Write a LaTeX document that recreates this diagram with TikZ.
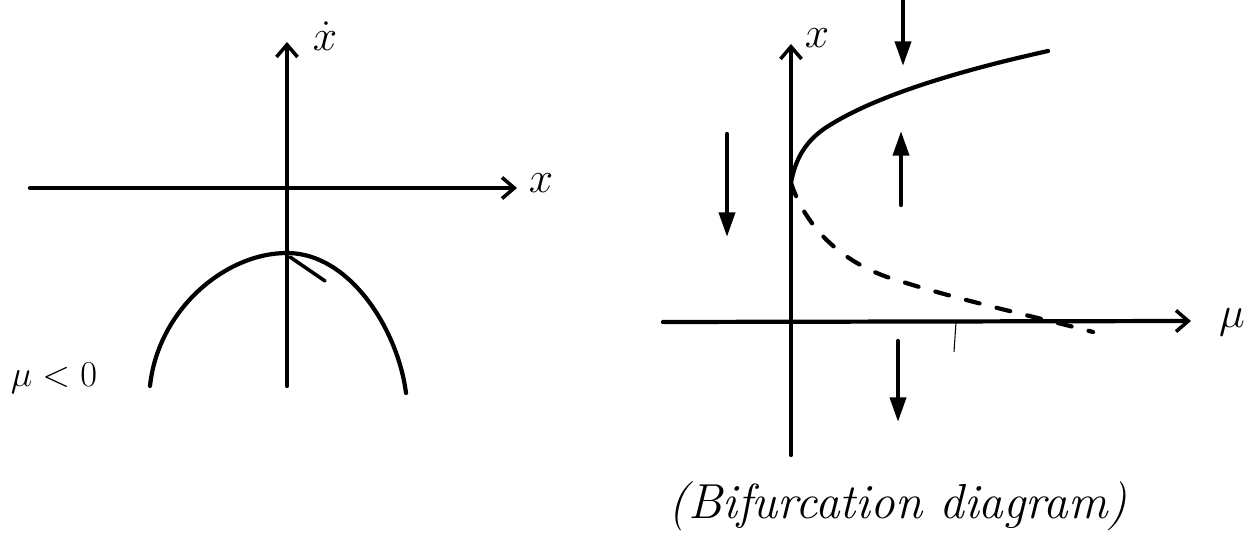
\documentclass[tikz,border=0pt]{standalone}
\usetikzlibrary{arrows.meta}
\begin{document}
\begin{tikzpicture}[x=0.02cm,y=-0.02cm,
  pen/.style={line width=2.4pt,line cap=round,line join=round},
  axis/.style={pen,-{Straight Barb[length=7pt,width=12pt,line width=2pt]}},
  flow/.style={pen,-{Triangle[length=14pt,width=9pt]}},
  lbl/.style={inner sep=0pt,font=\fontsize{26}{28}\selectfont},
  dashbranch/.style={pen,dash pattern=on 8pt off 10pt}]
\useasboundingbox (0,0) rectangle (1254,553);
% ---------- left panel ----------
\coordinate (hL) at (30,188);
\coordinate (hR) at (517,188);
\coordinate (vB) at (287,386);
\coordinate (vT) at (287,42);
\draw[axis] (hL) -- (hR);
\draw[axis] (vB) -- (vT);
\node[lbl] (xlab) at (541,183) {$x$};
\node[lbl] (xdot) at (325,36) {$\dot{x}$};
\coordinate (pL) at (150,386);
\coordinate (pA) at (287,253);
\coordinate (pR) at (406,393);
\draw[pen] (pL) .. controls (158,310) and (225,253) .. (pA)
  .. controls (350,253) and (398,330) .. (pR);
\coordinate (t1) at (290,257);
\coordinate (t2) at (325,281);
\draw[line width=2pt,line cap=round] (t1) -- (t2);
\node[lbl,font=\fontsize{21}{23}\selectfont] (mu0) at (54,378) {$\mu<0$};
% ---------- right panel ----------
\coordinate (HL) at (663,322);
\coordinate (HR) at (1191,321);
\coordinate (VB) at (791,455);
\coordinate (VT) at (791,44);
\draw[axis] (HL) -- (HR);
\draw[axis] (VB) -- (VT);
\node[lbl] (xr) at (817,38) {$x$};
\node[lbl,font=\fontsize{34}{36}\selectfont] (mur) at (1232,322) {$\mu$};
\coordinate (O) at (791,183);
\coordinate (U) at (1048,51);
\coordinate (D) at (1093,332);
\draw[pen] (O) .. controls (795,160) and (805,140) .. (830,125)
  .. controls (870,100) and (940,75) .. (U);
\draw[dashbranch] (O) .. controls (805,225) and (840,265) .. (903,282)
  .. controls (960,300) and (1040,318) .. (D);
\coordinate (tk1) at (956,322);
\coordinate (tk2) at (954,352);
\draw[line width=0.6pt] (tk1) -- (tk2);
% flow arrows
\coordinate (a1s) at (903,0);
\coordinate (a1e) at (903,66);
\coordinate (a2s) at (727,134);
\coordinate (a2e) at (727,237);
\coordinate (a3s) at (901,205);
\coordinate (a3e) at (901,131);
\coordinate (a4s) at (898,341);
\coordinate (a4e) at (898,422);
\draw[flow] (a1s) -- (a1e);
\draw[flow] (a2s) -- (a2e);
\draw[flow] (a3s) -- (a3e);
\draw[flow] (a4s) -- (a4e);
\node[lbl,font=\itshape\fontsize{28}{30}\selectfont] (cap) at (898,506) {(Bifurcation diagram)};
\end{tikzpicture}
\end{document}
